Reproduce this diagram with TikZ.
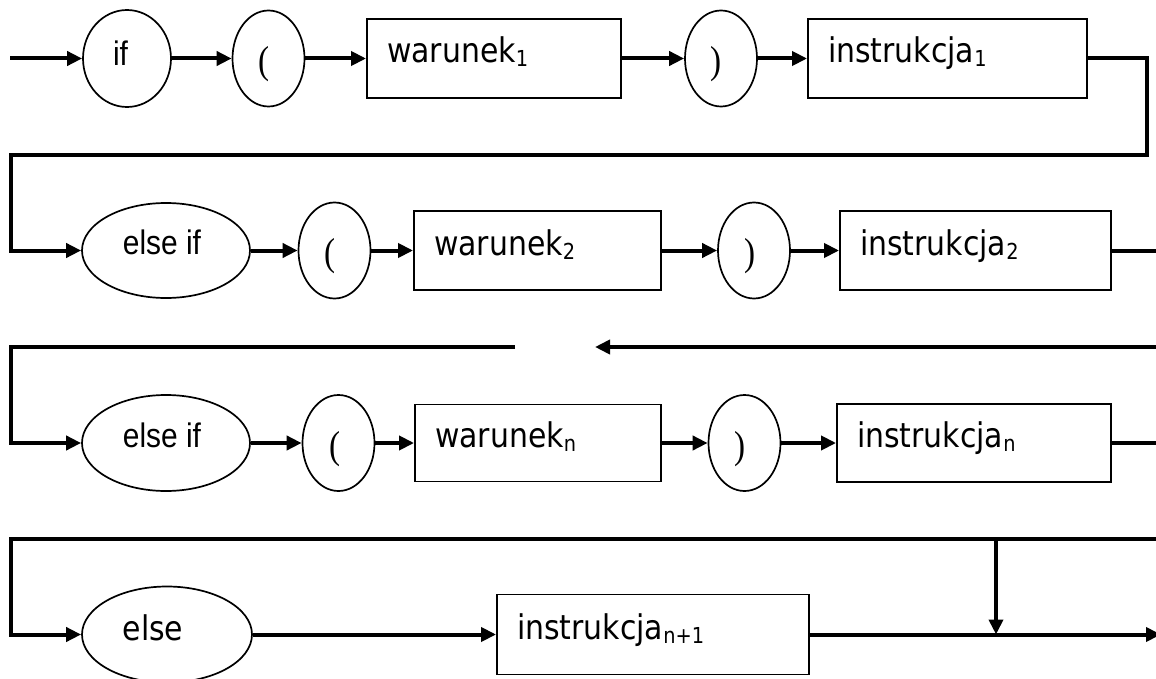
\documentclass[tikz,border=0pt]{standalone}
\usepackage{fontspec}
\setmainfont[FakeStretch=0.88]{DejaVu Sans}
\newfontfamily\kwfont[FakeStretch=0.88]{Liberation Sans}
\newfontfamily\parfont[FakeStretch=0.85]{Liberation Serif}
\usetikzlibrary{arrows.meta,shapes.geometric}
% lowered, smaller index after a word
\newcommand\lowidx[1]{\raisebox{-4pt}{\fontsize{22}{22}\selectfont #1}}

\begin{document}
\begin{tikzpicture}[x=1pt,y=-1pt,
  flow/.style={line width=4pt},
  arr/.style={flow,-{Triangle[length=15pt,width=14pt]}},
  oval/.style={ellipse,draw,line width=1.7pt,inner sep=0pt},
  kw/.style={oval,font=\kwfont\fontsize{34}{34}\selectfont,text height=8pt,text depth=0pt},
  paren/.style={oval,minimum width=72pt,minimum height=96pt,
    font=\parfont\fontsize{39}{39}\selectfont,text height=30pt,text depth=0pt},
  stmt/.style={rectangle,draw,line width=1.9pt,inner xsep=20pt,inner ysep=0pt,
    minimum height=79pt,align=left,font=\fontsize{34}{34}\selectfont,
    text height=9pt,text depth=0pt}]
\useasboundingbox (0,0) rectangle (1156,679);

% row 1: if ( warunek_1 ) instrukcja_1
\node[kw,minimum width=88pt,minimum height=97pt,text height=14pt] (if) at (127,58.5) {if\kern13pt};
\node[paren] (lp1) at (268.5,58.5) {(\kern8pt};
\node[stmt,text width=214pt] (w1) at (494,58.5) {warunek\lowidx{1}};
\node[paren] (rp1) at (721,58.5) {)\kern10pt};
\node[stmt,text width=239pt] (i1) at (947.5,58.5) {instrukcja\lowidx{1}};

% row 2: else if ( warunek_2 ) instrukcja_2
\node[kw,minimum width=168pt,minimum height=95pt] (ei2) at (166,250.5) {else if\kern8pt};
\node[paren] (lp2) at (334.5,250.5) {(\kern8pt};
\node[stmt,text width=207pt] (w2) at (537.5,250.5) {warunek\lowidx{2}};
\node[paren] (rp2) at (754,250.5) {)\kern8pt};
\node[stmt,text width=231pt] (i2) at (975.5,250.5) {instrukcja\lowidx{2}};

% row 3: else if ( warunek_n ) instrukcja_n
\node[kw,minimum width=168pt,minimum height=96pt] (ei3) at (166,443) {else if\kern8pt};
\node[paren] (lp3) at (338.5,443) {(\kern7pt};
\node[stmt,text width=206pt,minimum height=77pt] (w3) at (538,443) {warunek\lowidx{n}};
\node[paren] (rp3) at (744.5,443) {)\kern9pt};
\node[stmt,text width=234pt,minimum height=78pt] (i3) at (974,443) {instrukcja\lowidx{n}};

% row 4: else instrukcja_{n+1}
\node[oval,minimum width=170pt,minimum height=96pt,font=\fontsize{34}{34}\selectfont,
  text height=12pt,text depth=0pt] (el) at (167,634.5) {else\kern28pt};
\node[stmt,text width=272pt,minimum height=80pt] (i4) at (653,634.5) {instrukcja\lowidx{n+1}};

% route points
\coordinate (start) at (10,58.5);
\coordinate (c1r) at (1147,155);
\coordinate (c1l) at (11,155);
\coordinate (e2) at (1156,250.5);
\coordinate (s3r) at (1156,347);
\coordinate (s3tip) at (595,347);
\coordinate (s3l) at (515,347);
\coordinate (c3l) at (11,347);
\coordinate (e3) at (1156,443);
\coordinate (s4r) at (1156,539);
\coordinate (c4l) at (11,539);
\coordinate (drop) at (996,539);
\coordinate (join) at (996,634.5);
\coordinate (out) at (1161,634.5);

% row 1 connectors
\draw[arr] (start) -- (if.west);
\draw[arr] (if) -- (lp1);
\draw[arr] (lp1) -- (w1);
\draw[arr] (w1) -- (rp1);
\draw[arr] (rp1) -- (i1);
\draw[arr] (i1.east) -| (c1r) -- (c1l) |- (ei2.west);

% row 2 connectors
\draw[arr] (ei2) -- (lp2);
\draw[arr] (lp2) -- (w2);
\draw[arr] (w2) -- (rp2);
\draw[arr] (rp2) -- (i2);
\draw[flow] (i2.east) -- (e2);

% broken return line into row 3
\draw[arr] (s3r) -- (s3tip);
\draw[arr] (s3l) -- (c3l) |- (ei3.west);

% row 3 connectors
\draw[arr] (ei3) -- (lp3);
\draw[arr] (lp3) -- (w3);
\draw[arr] (w3) -- (rp3);
\draw[arr] (rp3) -- (i3);
\draw[flow] (i3.east) -- (e3);

% row 4 connectors
\draw[arr] (s4r) -- (c4l) |- (el.west);
\draw[arr] (el) -- (i4);
\draw[arr] (drop) -- (join);
\draw[arr] (i4.east) -- (out);
\end{tikzpicture}
\end{document}
